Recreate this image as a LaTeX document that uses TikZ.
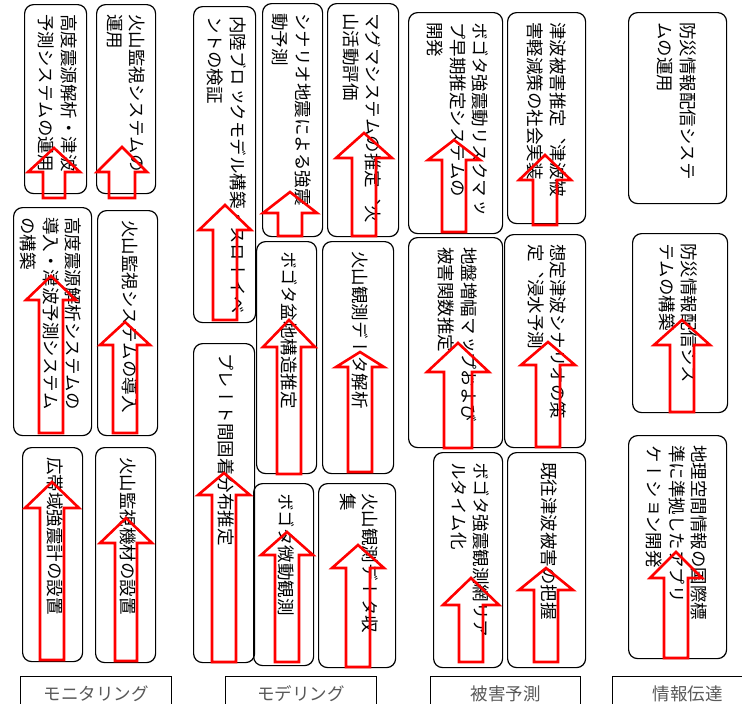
\documentclass[tikz,border=0pt]{standalone}
\usepackage{fontspec}
\usepackage{graphicx}
\newfontfamily\jp{Noto Sans CJK JP}
\newfontfamily\vjp[Vertical=RotatedGlyphs]{Noto Sans CJK JP}
\newcommand\vtext[1]{\rotatebox{-90}{\fontsize{17.5}{22.5}\selectfont\vjp\begin{tabular}{@{}l@{}}#1\end{tabular}}}
\tikzset{
  box/.style={draw=black, line width=1.2pt, rounded corners=9pt, inner sep=0pt},
  vlab/.style={inner sep=0pt, text=black},
  catbox/.style={draw=black, line width=1.1pt, inner sep=0pt, text=black!65, font=\jp\fontsize{17.5}{20}\selectfont},
  redarr/.style={draw=red, line width=2.6pt, line join=miter}
}
% name, x1, y1, x2, y2, dx, text
\newcommand\bx[7]{%
  \node[box, minimum width={(#4-#2)*1pt}, minimum height={(#5-#3)*1pt}, anchor=north west] (#1) at (#2,#3) {};
  \node[vlab, anchor=north] (#1t) at ([xshift=#6pt, yshift=-10pt]#1.north) {\vtext{#7}};
}
% cx, ybottom, yheadbase, ytip, shaft half width, head half width
\newcommand\redarrow[6]{%
  \draw[redarr] ({#1-#5},#2) -- ({#1-#5},#3) -- ({#1-#6},#3) -- (#1,#4) -- ({#1+#6},#3) -- ({#1+#5},#3) -- ({#1+#5},#2) -- cycle;
}
\begin{document}
\begin{tikzpicture}[x=1pt, y=-1pt]
\useasboundingbox (0,0) rectangle (742,704);
\clip (0,0) rectangle (742,704);
\fill[white] (0,0) rectangle (742,704);
% ---- Monitoring column
\bx{A1}{24}{4}{86}{193}{0}{高度震源解析・津波\\予測システムの運用}
\bx{A2}{96}{4}{155}{193}{-2}{火山監視システムの\\運用}
\bx{B1}{13}{207}{91}{435}{-4}{高度震源解析システムの\\導入・津波予測システム\\の構築}
\bx{B2}{97}{210}{157}{435}{0}{火山監視システムの導入}
\bx{C1}{22}{447}{82}{661}{0}{広帯域強震計の設置}
\bx{C2}{95}{447}{155}{662}{0}{火山監視機材の設置}
% ---- Modeling column
\bx{D1}{193}{6}{255}{322}{0}{内陸ブロックモデル構築・スローイベ\\ントの検証}
\bx{D2}{193}{343}{254}{662}{0}{プレート間固着分布推定}
\bx{E1}{262}{3}{322}{236}{-3}{シナリオ地震による強震\\動予測}
\bx{E2}{256}{241}{316}{473}{0}{ボゴタ盆地構造推定}
\bx{E3}{253}{483}{313}{665}{0}{ボゴタ微動観測}
\bx{F1}{327}{3}{398}{236}{-3}{マグマシステムの推定、火\\山活動評価}
\bx{F2}{322}{241}{393}{473}{0}{火山観測データ解析}
\bx{F3}{318}{483}{395}{667}{0}{火山観測データ収\\集}
% ---- Damage prediction column
\bx{G1}{408}{12}{502}{233}{0}{ボゴタ強震動リスクマッ\\プ早期推定システムの\\開発}
\bx{G2}{507}{12}{585}{223}{-2}{津波被害推定、津波被\\害軽減策の社会実装}
\bx{H1}{408}{237}{502}{447}{0}{地盤増幅マップおよび\\被害関数推定}
\bx{H2}{504}{234}{585}{447}{0}{想定津波シナリオの策\\定、浸水予測}
\bx{I1}{433}{452}{502}{667}{0}{ボゴタ強震観測網リア\\ルタイム化}
\bx{I2}{507}{452}{585}{667}{0}{既往津波被害の把握}
% ---- Information column
\bx{J1}{628}{12}{726}{203}{-3}{防災情報配信システ\\ムの運用}
\bx{J2}{632}{233}{727}{412}{-4}{防災情報配信シス\\テムの構築}
\bx{J3}{628}{435}{726}{658}{-3}{地理空間情報の国際標\\準に準拠したアプリ\\ケーション開発}
% ---- category labels
\node[catbox, minimum width=151pt, minimum height=34pt, anchor=north west] (L1) at (20,676) {モニタリング};
\node[catbox, minimum width=151pt, minimum height=34pt, anchor=north west] (L2) at (225,676) {モデリング};
\node[catbox, minimum width=150pt, minimum height=34pt, anchor=north west] (L3) at (430,676) {被害予測};
\node[catbox, minimum width=150pt, minimum height=34pt, anchor=north west] (L4) at (612,676) {情報伝達};
% ---- red arrows
\redarrow{54}{198}{172}{148}{11}{26}
\redarrow{122}{198}{172}{147}{13}{25}
\redarrow{51}{433}{300}{276}{12}{25}
\redarrow{125}{433}{345}{322}{12}{25}
\redarrow{52}{660}{508}{482}{12}{27}
\redarrow{126}{661}{543}{518}{11}{26}
\redarrow{225}{320}{230}{205}{12}{26}
\redarrow{290}{236}{213}{192}{12}{27}
\redarrow{364}{236}{158}{133}{12}{28}
\redarrow{224}{662}{495}{473}{12}{26}
\redarrow{289}{474}{347}{320}{12}{26}
\redarrow{360}{472}{367}{352}{12}{24}
\redarrow{287}{662}{555}{532}{12}{26}
\redarrow{358}{667}{568}{545}{12}{26}
\redarrow{454}{232}{160}{140}{12}{26}
\redarrow{545}{225}{180}{155}{12}{26}
\redarrow{458}{448}{372}{343}{14}{31}
\redarrow{548}{447}{365}{342}{12}{27}
\redarrow{471}{662}{605}{578}{12}{28}
\redarrow{546}{662}{590}{568}{12}{27}
\redarrow{682}{412}{345}{320}{12}{28}
\redarrow{676}{658}{578}{552}{12}{26}
\end{tikzpicture}
\end{document}
